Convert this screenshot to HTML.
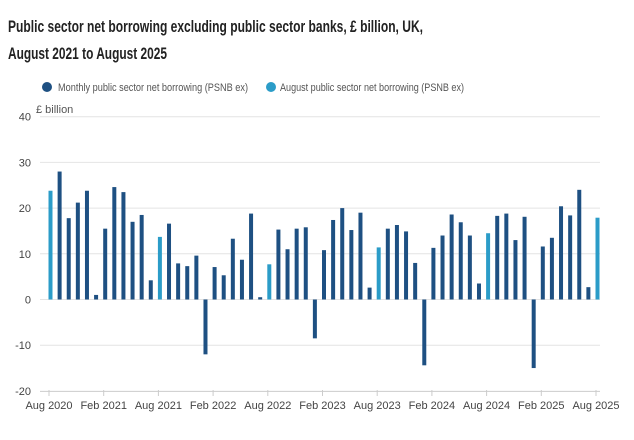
<!DOCTYPE html>
<html><head><meta charset="utf-8"><style>
body{margin:0;background:#fff;width:634px;height:440px;overflow:hidden;font-family:"Liberation Sans",sans-serif}
svg{position:absolute;left:0;top:0}
</style></head><body>
<svg id="c" width="634" height="440" xmlns="http://www.w3.org/2000/svg" font-family="Liberation Sans, sans-serif">
<text x="8" y="32" font-size="16.5" font-weight="bold" fill="#222" textLength="415" lengthAdjust="spacingAndGlyphs">Public sector net borrowing excluding public sector banks, £ billion, UK,</text>
<text x="8" y="59" font-size="16.5" font-weight="bold" fill="#222" textLength="159" lengthAdjust="spacingAndGlyphs">August 2021 to August 2025</text>
<circle cx="47" cy="87" r="5" fill="#1e5082"/>
<text x="58" y="91" font-size="11" fill="#555" textLength="190" lengthAdjust="spacingAndGlyphs">Monthly public sector net borrowing (PSNB ex)</text>
<circle cx="271" cy="87" r="5" fill="#2b9cc8"/>
<text x="280" y="91" font-size="11" fill="#555" textLength="184" lengthAdjust="spacingAndGlyphs">August public sector net borrowing (PSNB ex)</text>
<text x="36" y="113" font-size="11" fill="#555">£ billion</text>
<g id="grid" stroke="#e4e4e4" stroke-width="1"></g>
<g id="ylab" font-size="11" fill="#444" text-anchor="end"></g>
<g id="bars"></g>
<g id="xt" font-size="11" fill="#444" text-anchor="middle"></g>
</svg>
<script>
var NS="http://www.w3.org/2000/svg";
function el(p,t,a,txt){var e=document.createElementNS(NS,t);for(var k in a)e.setAttribute(k,a[k]);if(txt)e.textContent=txt;document.getElementById(p).appendChild(e);}
function Y(v){return 299.5-v*4.57;}
for(var v=40;v>=-20;v-=10){
 if(v!==-20) el("grid","line",{x1:40,x2:600,y1:Y(v),y2:Y(v)});
 el("ylab","text",{x:31,y:Y(v)+4},""+v);
}
el("grid","line",{x1:40,x2:600,y1:Y(-20)+0.5,y2:Y(-20)+0.5,stroke:"#ccc"});
var d=[23.8,28,17.8,21.2,23.8,1,15.5,24.6,23.5,17,18.5,4.2,13.7,16.6,7.9,7.3,9.6,-12,7.1,5.3,13.3,8.7,18.8,0.5,7.7,15.3,11,15.5,15.8,-8.5,10.8,17.4,20,15.2,19,2.6,11.4,15.5,16.3,14.9,8,-14.4,11.3,14,18.6,16.9,14,3.5,14.5,18.3,18.8,13,18.1,-15,11.6,13.5,20.4,18.4,24,2.7,17.9];
for(var i=0;i<d.length;i++){
 var x=49+i*(547/60)+1.5, v=d[i], y0=Y(0), y1=Y(v);
 el("bars","rect",{x:x-2,y:Math.min(y0,y1),width:4,height:Math.max(1,Math.abs(y1-y0)),fill:(i%12===0)?"#2b9cc8":"#1e5082"});
}
var L=["Aug 2020","Feb 2021","Aug 2021","Feb 2022","Aug 2022","Feb 2023","Aug 2023","Feb 2024","Aug 2024","Feb 2025","Aug 2025"];
for(var j=0;j<L.length;j++){
 var x=49+j*6*(547/60);
 el("xt","line",{x1:x,x2:x,y1:390,y2:396,stroke:"#ccc"});
 el("xt","text",{x:x,y:409},L[j]);
}
</script>
</body></html>
